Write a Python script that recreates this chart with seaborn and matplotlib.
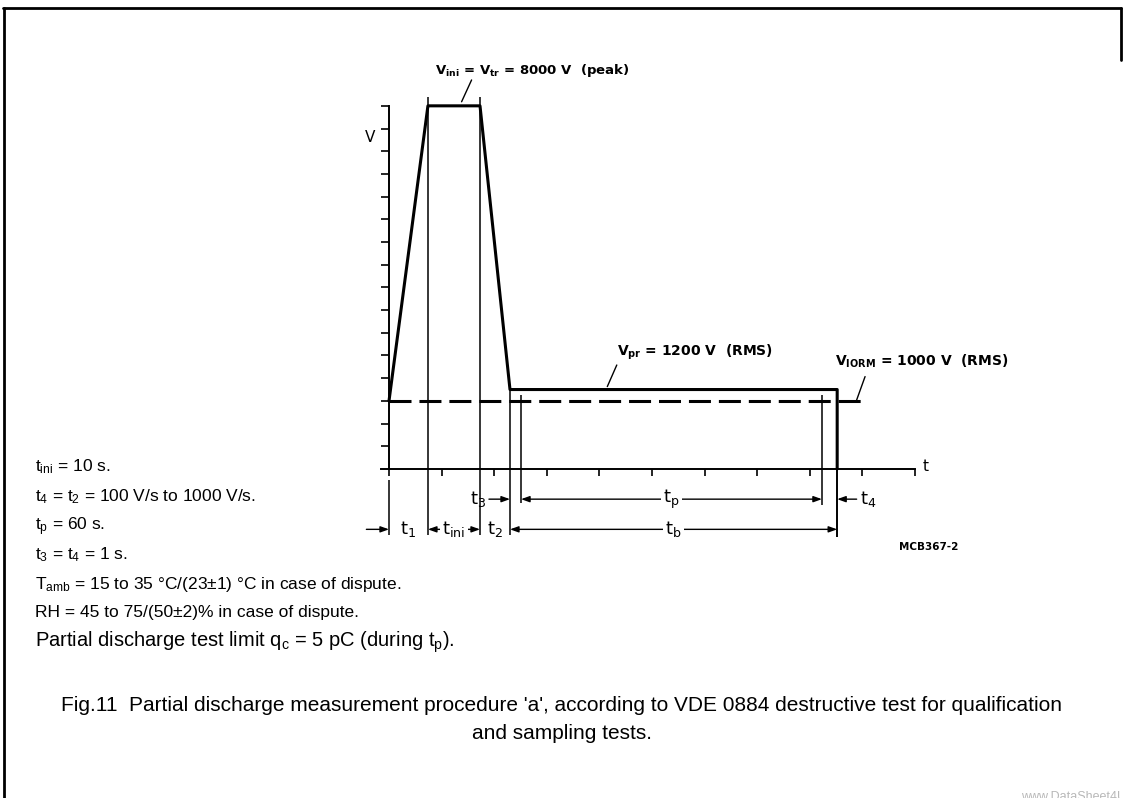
import numpy as np
import pandas as pd
import matplotlib.pyplot as plt
import seaborn as sns
from matplotlib.lines import Line2D

# schematic units: one x tick = one time step, one y tick = one voltage step
wave_t = [0.0, 0.74, 1.73, 2.30, 8.52, 8.52]
wave_v = [3.0, 16.0, 16.0, 3.5, 3.5, 0.0]
iorm_t = [0.0, 9.01]
iorm_v = [3.0, 3.0]
x_ticks = list(range(0, 11))
y_ticks = list(range(1, 17))

# interval boundaries on the time axis
t1_end, tini_end, t2_end, t3_end, tp_end, tb_end = 0.74, 1.73, 2.30, 2.51, 8.23, 8.52

notes = [
    r"$\mathregular{t_{ini}}$ = 10 s.",
    r"$\mathregular{t_4}$ = $\mathregular{t_2}$ = 100 V/s to 1000 V/s.",
    r"$\mathregular{t_p}$ = 60 s.",
    r"$\mathregular{t_3}$ = $\mathregular{t_4}$ = 1 s.",
    r"$\mathregular{T_{amb}}$ = 15 to 35 °C/(23±1) °C in case of dispute.",
    r"RH = 45 to 75/(50±2)% in case of dispute.",
]
last_note = r"Partial discharge test limit $\mathregular{q_c}$ = 5 pC (during $\mathregular{t_p}$)."
caption = [
    "Fig.11  Partial discharge measurement procedure 'a', according to VDE 0884 destructive test for qualification",
    "and sampling tests.",
]

sns.set_style("white")
plt.rcParams["font.family"] = ["Liberation Sans", "DejaVu Sans"]
plt.rcParams["mathtext.default"] = "regular"
plt.rcParams["text.color"] = "black"

W, H = 1123, 798
fig = plt.figure(figsize=(W / 100, H / 100), dpi=100)

def fx(px):
    return px / W

def fy(py):
    return 1 - py / H

ax = fig.add_axes([fx(362.7), fy(541.6), 583.9 / W, 485.7 / H])
ax.set_xlim(-0.5, 10.6)
ax.set_ylim(-3.2, 18.2)
ax.patch.set_alpha(0)

df_wave = pd.DataFrame({"time": wave_t, "volt": wave_v})
df_iorm = pd.DataFrame({"time": iorm_t, "volt": iorm_v})
sns.lineplot(data=df_wave, x="time", y="volt", estimator=None, sort=False,
             color="black", lw=2.2, ax=ax)
sns.lineplot(data=df_iorm, x="time", y="volt", estimator=None, sort=False,
             color="black", lw=2.2, linestyle=(0, (7.2, 2.6)), ax=ax)

# axes drawn as crossing lines
for s in ["top", "right"]:
    ax.spines[s].set_visible(False)
ax.spines["left"].set_position(("data", 0))
ax.spines["bottom"].set_position(("data", 0))
ax.spines["left"].set_bounds(0, 16)
ax.spines["bottom"].set_bounds(-0.15, 10)
for s in ["left", "bottom"]:
    ax.spines[s].set_linewidth(1.4)
    ax.spines[s].set_color("black")
ax.set_xticks(x_ticks)
ax.set_yticks(y_ticks)
ax.set_xticklabels([])
ax.set_yticklabels([])
ax.tick_params(axis="y", direction="out", length=5.8, width=1.2, left=True, color="black")
ax.tick_params(axis="x", direction="out", length=5, width=1.2, bottom=True, color="black")
ax.set_xlabel("")
ax.set_ylabel("")

# extension lines
lk = dict(color="black", lw=1.1)
ax.vlines(0, -2.9, -0.48, **lk)
ax.vlines(t1_end, -2.9, 16.4, **lk)
ax.vlines(tini_end, -2.9, 16.4, **lk)
ax.vlines(t2_end, -2.9, 3.5, **lk)
ax.vlines(t3_end, -1.5, 3.26, **lk)
ax.vlines(tp_end, -1.6, 3.26, **lk)
ax.vlines(tb_end, -3.0, 0, color="black", lw=1.4)

row1, row2 = -1.33, -2.66
one = dict(arrowstyle="-|>,head_length=0.5,head_width=0.18", lw=1, color="black",
           shrinkA=0, shrinkB=0)
two = dict(arrowstyle="<|-|>,head_length=0.5,head_width=0.18", lw=1, color="black",
           shrinkA=0, shrinkB=0)
box = dict(fc="white", ec="none", pad=1.5)
dk = dict(fontsize=13, family="DejaVu Sans", va="center")

ax.annotate("", xy=(0, row2), xytext=(-0.43, row2), arrowprops=one)
ax.text(0.37, row2, r"$\mathregular{t_1}$", ha="center", **dk)
ax.annotate("", xy=(tini_end, row2), xytext=(t1_end, row2), arrowprops=two)
ax.text((t1_end + tini_end) / 2, row2, r"$\mathregular{t_{ini}}$", ha="center", bbox=box, **dk)
ax.text((tini_end + t2_end) / 2, row2, r"$\mathregular{t_2}$", ha="center", **dk)
ax.annotate("", xy=(tb_end, row2), xytext=(t2_end, row2), arrowprops=two)
ax.text((t2_end + tb_end) / 2, row2, r"$\mathregular{t_b}$", ha="center", bbox=box, **dk)

ax.annotate("", xy=(t2_end, row1), xytext=(1.90, row1), arrowprops=one)
ax.text(1.84, row1, r"$\mathregular{t_3}$", ha="right", **dk)
ax.annotate("", xy=(tp_end, row1), xytext=(t3_end, row1), arrowprops=two)
ax.text((t3_end + tp_end) / 2, row1, r"$\mathregular{t_p}$", ha="center", bbox=box, **dk)
ax.annotate("", xy=(tb_end, row1), xytext=(8.89, row1), arrowprops=one)
ax.text(8.95, row1, r"$\mathregular{t_4}$", ha="left", **dk)

# labels and leaders
lab = dict(fontsize=10, fontweight="bold", family="DejaVu Sans", va="center")
leader = dict(arrowstyle="-", lw=1, color="black", shrinkA=0, shrinkB=0)
ax.text(2.72, 17.55, r"$\mathregular{V_{ini}}$ = $\mathregular{V_{tr}}$ = 8000 V  (peak)",
        ha="center", **dict(lab, fontsize=9.5))
ax.annotate("", xy=(1.38, 16.18), xytext=(1.57, 17.14), arrowprops=leader)
ax.text(4.33, 5.15, r"$\mathregular{V_{pr}}$ = 1200 V  (RMS)", ha="left", **lab)
ax.annotate("", xy=(4.15, 3.63), xytext=(4.33, 4.58), arrowprops=leader)
ax.text(8.48, 4.75, r"$\mathregular{V_{IORM}}$ = 1000 V  (RMS)", ha="left", **lab)
ax.annotate("", xy=(8.89, 3.04), xytext=(9.05, 4.07), arrowprops=leader)
ax.text(-0.36, 14.6, "V", ha="center", va="center", fontsize=11, family="DejaVu Sans")
ax.text(10.2, 0.13, "t", ha="center", va="center", fontsize=11, family="DejaVu Sans")
ax.text(10.25, -3.44, "MCB367-2", ha="center", va="center", fontsize=7.5,
        fontweight="bold", family="DejaVu Sans")

# notes and caption
base = [471.5, 501, 530, 559.5, 588.5, 617.5]
for line, y in zip(notes, base):
    fig.text(fx(35), fy(y), line, ha="left", va="baseline", fontsize=12.5)
fig.text(fx(35), fy(647), last_note, ha="left", va="baseline", fontsize=14.5)
fig.text(fx(561.5), fy(711), caption[0], ha="center", va="baseline", fontsize=15)
fig.text(fx(561.5), fy(739), caption[1], ha="center", va="baseline", fontsize=15)
fig.text(fx(1021), fy(790.5), "www.DataSheet4U.com", ha="left", va="top", fontsize=9,
         color="#b8b8b8")

# frame
fr = dict(color="black", lw=2, transform=fig.transFigure)
fig.add_artist(Line2D([fx(3), fx(1121)], [fy(8), fy(8)], **fr))
fig.add_artist(Line2D([fx(3.5), fx(3.5)], [fy(8), fy(798)], **fr))
fig.add_artist(Line2D([fx(1121), fx(1121)], [fy(8), fy(60)], **fr))

fig.savefig("out.png", dpi=100)
